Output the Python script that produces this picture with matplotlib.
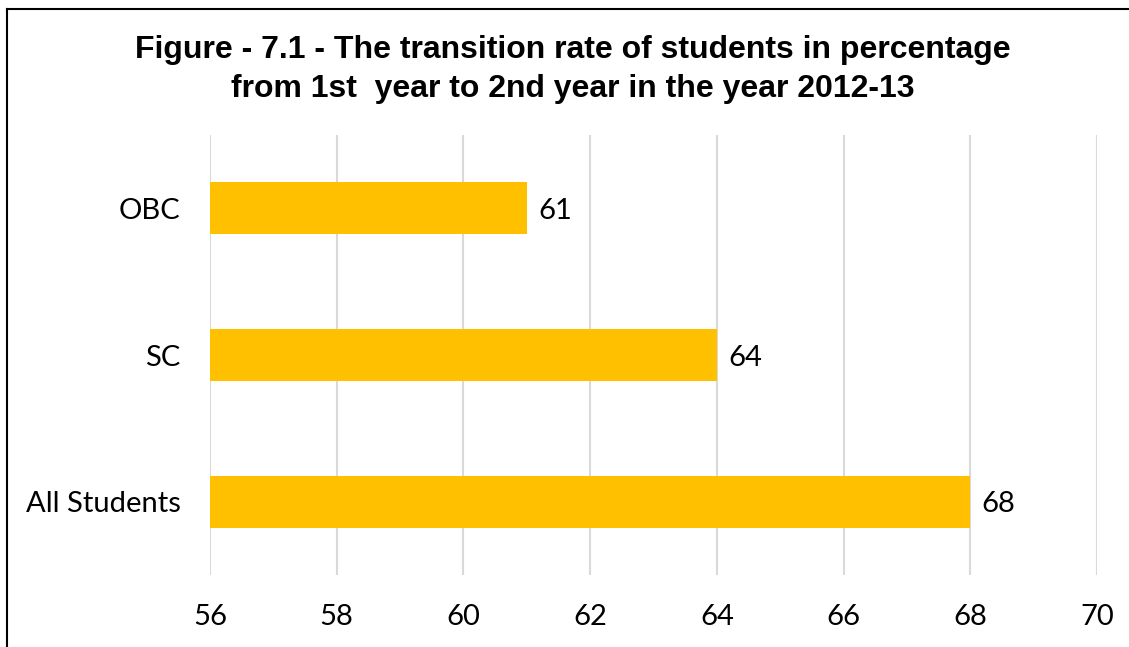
import matplotlib
matplotlib.use("Agg")
import matplotlib.pyplot as plt
from matplotlib.lines import Line2D

categories = ["All Students", "SC", "OBC"]
values = [68, 64, 61]
xticks = [56, 58, 60, 62, 64, 66, 68, 70]
title = "Figure - 7.1 - The transition rate of students in percentage\nfrom 1st  year to 2nd year in the year 2012-13"

fig = plt.figure(figsize=(11.29, 6.47), dpi=100)
ax = fig.add_axes([210/1129, 1-575/647, (1097-210)/1129, (575-135)/647])

bar_font = "Lato"
fs = 21
ax.barh(range(len(categories)), [v - 56 for v in values], left=56, height=0.355,
        color="#FFC000", zorder=3)
ax.set_xlim(56, 70)
ax.set_ylim(-0.5, len(categories) - 0.5)
ax.set_xticks(xticks)
ax.set_xticklabels([str(t) for t in xticks], fontsize=fs, family=bar_font)
ax.set_yticks(range(len(categories)))
ax.set_yticklabels(categories, fontsize=fs, family=bar_font)
ax.tick_params(axis="x", length=0, pad=21)
ax.tick_params(axis="y", length=0, pad=21)
ax.grid(axis="x", color="#d9d9d9", linewidth=1.5, zorder=0)
for s in ax.spines.values():
    s.set_visible(False)

for i, v in enumerate(values):
    ax.annotate(str(v), xy=(v, i), xytext=(8, -2), textcoords="offset points",
                va="center", ha="left", fontsize=fs, family=bar_font)

fig.text(573/1129, 1-69.5/647, title, ha="center", va="center",
         fontsize=23, fontweight="bold", family="Liberation Sans", linespacing=1.35)

# frame lines (left and top)
fig.add_artist(Line2D([6.5/1129, 6.5/1129], [0, 1-9/647], color="black", linewidth=1.5,
                      transform=fig.transFigure))
fig.add_artist(Line2D([6.5/1129, 1], [1-9/647, 1-9/647], color="black", linewidth=1.5,
                      transform=fig.transFigure))

fig.savefig("out.png", dpi=100)
